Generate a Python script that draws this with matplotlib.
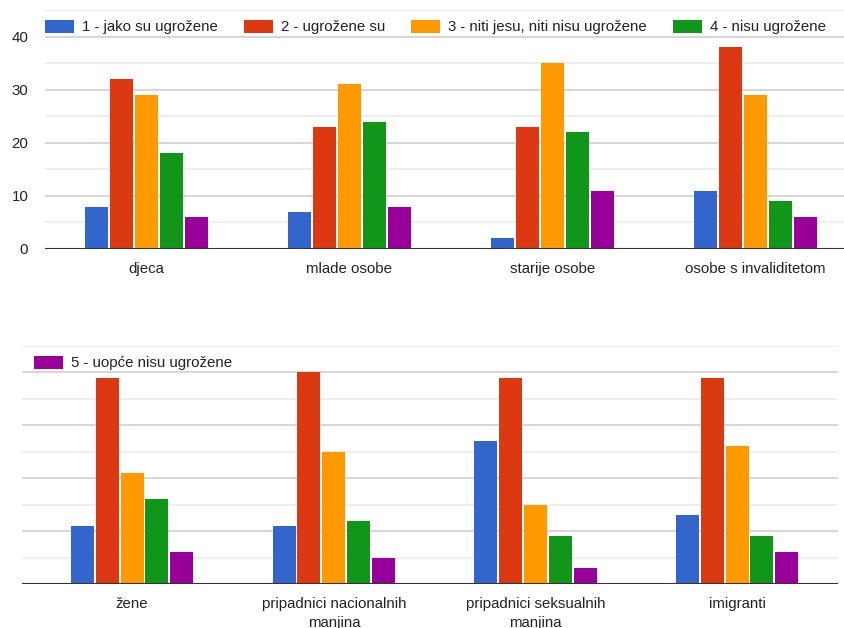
import matplotlib.pyplot as plt
from matplotlib.patches import Rectangle
import numpy as np

plt.rcParams['font.family'] = ['Liberation Sans', 'DejaVu Sans']

series_labels = ['1 - jako su ugrožene', '2 - ugrožene su', '3 - niti jesu, niti nisu ugrožene',
                 '4 - nisu ugrožene', '5 - uopće nisu ugrožene']
colors = ['#3366cc', '#dc3912', '#ff9900', '#109618', '#990099']

top_categories = ['djeca', 'mlade osobe', 'starije osobe', 'osobe s invaliditetom']
top_values = [
    [8, 7, 2, 11],     # 1
    [32, 23, 23, 38],  # 2
    [29, 31, 35, 29],  # 3
    [18, 24, 22, 9],   # 4
    [6, 8, 11, 6],     # 5
]

bottom_categories = ['žene', 'pripadnici nacionalnih\nmanjina', 'pripadnici seksualnih\nmanjina', 'imigranti']
bottom_values = [
    [11, 11, 27, 13],
    [39, 40, 39, 39],
    [21, 25, 15, 26],
    [16, 12, 9, 9],
    [6, 5, 3, 6],
]

W, H = 845, 628
fig = plt.figure(figsize=(W / 100, H / 100), dpi=100)

STEP = 0.123
BAR_W = 0.114
TXT = '#222222'
FS = 10.8


def px(x, y):
    return x / W, 1 - y / H


def setup(ax, show_labels):
    ax.set_ylim(0, 45)
    for v in range(5, 46, 5):
        ax.axhline(v, color='#cccccc' if v % 10 == 0 else '#ebebeb', lw=1.1, zorder=0)
    ax.axhline(0, color='#333333', lw=1.5, zorder=3)
    for s in ax.spines.values():
        s.set_visible(False)
    ax.tick_params(axis='both', length=0, colors=TXT, labelsize=FS)
    ax.tick_params(axis='x', pad=9.5)
    ax.tick_params(axis='y', pad=12)
    if show_labels:
        ax.set_yticks([0, 10, 20, 30, 40])
    else:
        ax.set_yticks([])


def draw_bars(ax, categories, values):
    x = np.arange(len(categories))
    for i, vals in enumerate(values):
        ax.bar(x + (i - 2) * STEP, vals, BAR_W, color=colors[i], zorder=2)
    ax.set_xticks(x)
    ax.set_xticklabels(categories, linespacing=1.4)


# top panel (right edge runs past the figure, like the cropped original)
l, b = px(45, 249)
ax1 = fig.add_axes([l, b, (857 - 45) / W, (249 - 10) / H])
setup(ax1, True)
draw_bars(ax1, top_categories, top_values)
ax1.set_xlim(-0.5, 3.5)

# bottom panel
l, b = px(22, 584)
ax2 = fig.add_axes([l, b, (838 - 22) / W, (584 - 346) / H])
setup(ax2, False)
draw_bars(ax2, bottom_categories, bottom_values)
ax2.set_xlim(-0.546, 3.5)


def legend_row(items, x0, yc):
    fig.canvas.draw()
    renderer = fig.canvas.get_renderer()
    x = x0
    for label, col in items:
        fx, fy = px(x, yc + 6.5)
        fig.patches.append(Rectangle((fx, fy), 29 / W, 13 / H, transform=fig.transFigure,
                                     facecolor=col, edgecolor='none'))
        t = fig.text((x + 37) / W, 1 - yc / H, label, fontsize=FS, color=TXT,
                     va='center', ha='left')
        ext = t.get_window_extent(renderer)
        x = ext.x1 + 26


legend_row(list(zip(series_labels[:4], colors[:4])), 45, 26.5)
legend_row([(series_labels[4], colors[4])], 34, 362.5)

fig.savefig('out.png', dpi=100)
